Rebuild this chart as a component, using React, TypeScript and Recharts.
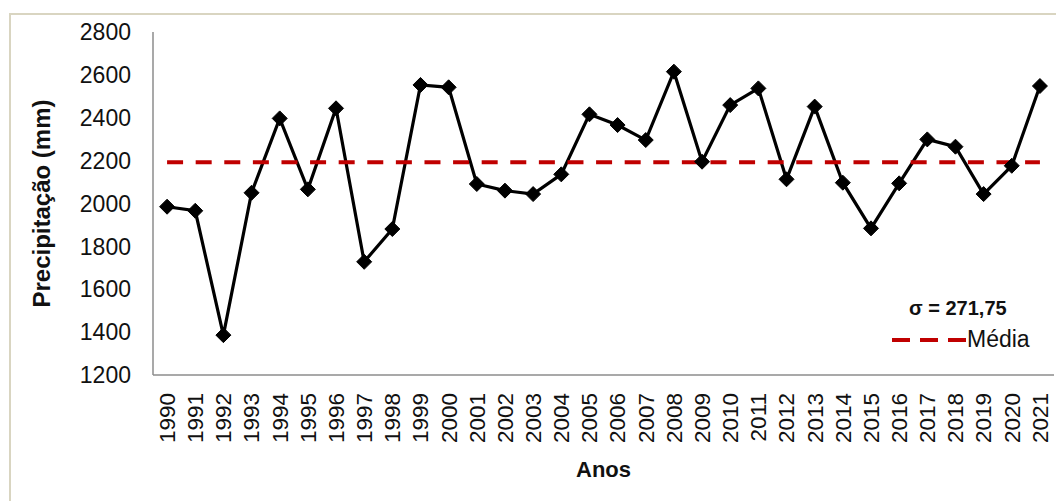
import { LineChart, Line, XAxis, YAxis, ReferenceLine, Legend } from 'recharts';

const years = [
  '1990', '1991', '1992', '1993', '1994', '1995', '1996', '1997', '1998', '1999', '2000',
  '2001', '2002', '2003', '2004', '2005', '2006', '2007', '2008', '2009', '2010',
  '2011', '2012', '2013', '2014', '2015', '2016', '2017', '2018', '2019', '2020', '2021',
];

const precipitation = [
  1985, 1966, 1386, 2050, 2397, 2066, 2444, 1728, 1881, 2553, 2542,
  2091, 2060, 2044, 2136, 2416, 2366, 2296, 2615, 2195, 2459,
  2537, 2113, 2452, 2097, 1884, 2094, 2299, 2265, 2044, 2176, 2548,
];

const yTicks = [1200, 1400, 1600, 1800, 2000, 2200, 2400, 2600, 2800];

const MEAN = 2193;
const SIGMA_LABEL = 'σ = 271,75';
const MEAN_LABEL = 'Média';

const FONT = '"Liberation Sans", Arial, sans-serif';
const RED = '#C00000';

const data = years.map((year, i) => ({ year, precip: precipitation[i] }));

const Diamond = (props: any) => {
  const { cx, cy } = props;
  if (cx == null || cy == null) return null;
  const s = 7.5;
  return (
    <path
      d={`M${cx},${cy - s} L${cx + s},${cy} L${cx},${cy + s} L${cx - s},${cy} Z`}
      fill="#000"
      stroke="#000"
      strokeWidth={1}
    />
  );
};

const YearTick = (props: any) => {
  const { x, y, payload } = props;
  return (
    <text
      x={x}
      y={y}
      transform={`rotate(-90 ${x} ${y})`}
      textAnchor="end"
      dy="0.35em"
      fontSize={22.5}
      fontFamily={FONT}
      fill="#111"
    >
      {payload.value}
    </text>
  );
};

const YTitle = (props: any) => {
  const { x, y, height } = props.viewBox;
  const cx = x + 43;
  const cy = y + height / 2;
  return (
    <text
      x={cx}
      y={cy}
      transform={`rotate(-90 ${cx} ${cy})`}
      textAnchor="middle"
      dy="0.3em"
      fontSize={24}
      fontWeight="bold"
      fontFamily={FONT}
      fill="#111"
    >
      Precipitação (mm)
    </text>
  );
};

const XTitle = (props: any) => {
  const { x, y, width } = props.viewBox;
  return (
    <text
      x={x + width / 2}
      y={y + 102}
      textAnchor="middle"
      fontSize={22}
      fontWeight="bold"
      fontFamily={FONT}
      fill="#111"
    >
      Anos
    </text>
  );
};

const MeanLegend = () => (
  <div style={{ fontFamily: FONT, color: '#111' }}>
    <div style={{ paddingLeft: 24, fontSize: 20, lineHeight: '22px', fontWeight: 'bold' }}>
      {SIGMA_LABEL}
    </div>
    <div style={{ display: 'flex', alignItems: 'center', paddingLeft: 7, marginTop: 8, height: 24 }}>
      <svg width={75} height={24}>
        <line x1={0} x2={75} y1={13} y2={13} stroke={RED} strokeWidth={4} strokeDasharray="18 10" />
      </svg>
      <span style={{ fontSize: 23, lineHeight: '24px' }}>{MEAN_LABEL}</span>
    </div>
  </div>
);

export default function App() {
  return (
    <div style={{ position: 'absolute', left: 0, top: 0, width: 1056, height: 501, overflow: 'hidden', background: '#fff' }}>
      <div
        style={{
          position: 'absolute',
          left: 9,
          top: 13,
          width: 1100,
          height: 600,
          border: '2px solid #d9d5c1',
        }}
      />
      <div style={{ position: 'absolute', left: 0, top: 0 }}>
        <LineChart width={1056} height={501} data={data} margin={{ top: 32, right: 2, left: 0, bottom: 0 }}>
          <XAxis
            dataKey="year"
            scale="band"
            interval={0}
            height={126}
            tickLine={false}
            tickSize={0}
            tickMargin={18}
            axisLine={{ stroke: '#8c8c8c', strokeWidth: 1.5 }}
            tick={<YearTick />}
            label={<XTitle />}
          />
          <XAxis
            xAxisId="top"
            dataKey="year"
            scale="band"
            orientation="top"
            height={0}
            tick={false}
            tickLine={false}
            axisLine={{ stroke: '#8c8c8c', strokeWidth: 1.5 }}
          />
          <YAxis
            type="number"
            domain={[1200, 2800]}
            ticks={yTicks}
            interval={0}
            width={153}
            tickLine={false}
            tickSize={0}
            tickMargin={22}
            axisLine={{ stroke: '#8c8c8c', strokeWidth: 1.5 }}
            tick={{ fontSize: 23, fill: '#111', fontFamily: FONT }}
            label={<YTitle />}
          />
          <YAxis
            yAxisId="right"
            type="number"
            orientation="right"
            domain={[1200, 2800]}
            width={0}
            tick={false}
            tickLine={false}
            axisLine={{ stroke: '#8c8c8c', strokeWidth: 1.5 }}
          />
          <Line
            dataKey="precip"
            stroke="#000"
            strokeWidth={3.2}
            dot={<Diamond />}
            activeDot={false}
            isAnimationActive={false}
          />
          <ReferenceLine
            segment={[
              { x: years[0], y: MEAN },
              { x: years[years.length - 1], y: MEAN },
            ]}
            stroke={RED}
            strokeWidth={4}
            strokeDasharray="16 12.6"
          />
          <Legend
            layout="vertical"
            align="center"
            verticalAlign="middle"
            wrapperStyle={{ left: 885, top: 297, width: 170 }}
            content={<MeanLegend />}
          />
        </LineChart>
      </div>
    </div>
  );
}
